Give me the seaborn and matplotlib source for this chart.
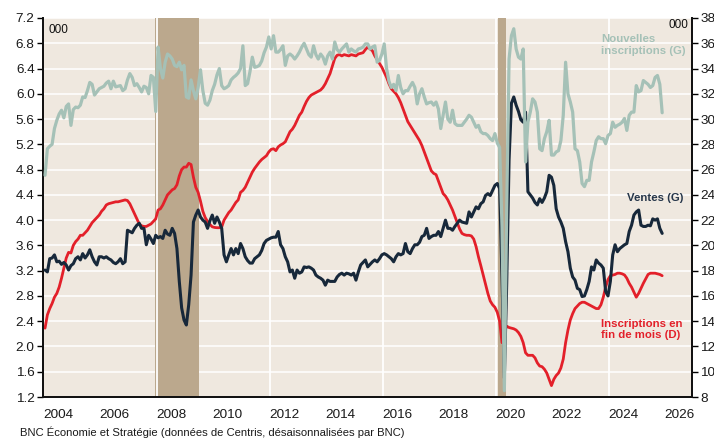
import pandas as pd
import matplotlib.pyplot as plt
import matplotlib.ticker as mticker
import seaborn as sns

# Monthly data, Jan 2004 -> Nov 2025 (thousands, seasonally adjusted)
# New listings (left axis)
nouvelles_inscriptions = [
    4.71, 5.13, 5.17, 5.20, 5.45, 5.58, 5.68, 5.74, 5.62, 5.80, 5.84, 5.50,  # 2004
    5.75, 5.79, 5.78, 5.82, 5.95, 5.94, 6.05, 6.18, 6.15, 5.98, 6.03, 6.08,  # 2005
    6.10, 6.12, 6.17, 6.20, 6.08, 6.20, 6.11, 6.12, 6.13, 6.05, 6.08, 6.22,  # 2006
    6.32, 6.26, 6.13, 6.16, 6.10, 6.03, 6.12, 6.10, 6.00, 6.29, 6.26, 5.72,  # 2007
    6.74, 6.40, 6.25, 6.50, 6.63, 6.60, 6.55, 6.45, 6.43, 6.50, 6.38, 6.45,  # 2008
    5.95, 5.93, 6.22, 6.05, 5.92, 6.10, 6.38, 6.05, 5.85, 5.82, 5.90, 6.05,  # 2009
    6.15, 6.30, 6.40, 6.13, 6.08, 6.10, 6.13, 6.22, 6.26, 6.29, 6.33, 6.40,  # 2010
    6.76, 6.13, 6.16, 6.35, 6.58, 6.42, 6.43, 6.45, 6.52, 6.65, 6.74, 6.90,  # 2011
    6.71, 6.92, 6.66, 6.66, 6.70, 6.76, 6.45, 6.60, 6.63, 6.60, 6.55, 6.60,  # 2012
    6.66, 6.74, 6.80, 6.71, 6.62, 6.58, 6.76, 6.62, 6.55, 6.63, 6.58, 6.47,  # 2013
    6.60, 6.66, 6.55, 6.82, 6.70, 6.66, 6.71, 6.75, 6.79, 6.66, 6.71, 6.68,  # 2014
    6.66, 6.71, 6.72, 6.74, 6.79, 6.79, 6.71, 6.74, 6.76, 6.50, 6.53, 6.63,  # 2015
    6.79, 6.40, 6.20, 6.10, 6.15, 6.05, 6.29, 6.10, 6.00, 6.05, 6.05, 6.12,  # 2016
    6.18, 6.10, 5.84, 6.00, 6.08, 5.95, 5.84, 5.86, 5.87, 5.82, 5.87, 5.76,  # 2017
    5.45, 5.66, 5.87, 5.60, 5.55, 5.74, 5.53, 5.50, 5.50, 5.50, 5.55, 5.60,  # 2018
    5.66, 5.63, 5.55, 5.47, 5.50, 5.40, 5.37, 5.37, 5.34, 5.29, 5.26, 5.37,  # 2019
    5.22, 5.15, 3.90, 1.30, 4.20, 6.55, 6.92, 7.03, 6.71, 6.58, 6.55, 6.71,  # 2020
    4.92, 5.55, 5.71, 5.92, 5.87, 5.71, 5.13, 5.10, 5.29, 5.40, 5.58, 5.03,  # 2021
    5.03, 5.08, 5.10, 5.26, 5.66, 6.50, 6.00, 5.87, 5.71, 5.13, 5.10, 4.92,  # 2022
    4.58, 4.53, 4.63, 4.63, 4.92, 5.08, 5.26, 5.32, 5.29, 5.29, 5.21, 5.34,  # 2023
    5.37, 5.55, 5.47, 5.50, 5.52, 5.55, 5.61, 5.42, 5.66, 5.71, 5.71, 6.13,  # 2024
    6.03, 6.05, 6.21, 6.18, 6.15, 6.10, 6.13, 6.26, 6.29, 6.15, 5.70,        # 2025
]

# Sales (left axis)
ventes = [
    3.21, 3.18, 3.39, 3.40, 3.45, 3.34, 3.35, 3.30, 3.33, 3.29, 3.21, 3.28,  # 2004
    3.31, 3.39, 3.42, 3.37, 3.47, 3.40, 3.45, 3.53, 3.42, 3.34, 3.29, 3.42,  # 2005
    3.42, 3.40, 3.42, 3.39, 3.37, 3.33, 3.31, 3.34, 3.39, 3.31, 3.34, 3.84,  # 2006
    3.82, 3.80, 3.87, 3.92, 3.95, 3.87, 3.87, 3.61, 3.76, 3.70, 3.63, 3.76,  # 2007
    3.72, 3.74, 3.71, 3.84, 3.78, 3.76, 3.87, 3.79, 3.55, 3.03, 2.61, 2.42,  # 2008
    2.34, 2.66, 3.13, 3.97, 4.08, 4.16, 4.05, 4.00, 3.97, 3.87, 3.99, 4.08,  # 2009
    3.95, 4.05, 3.97, 3.87, 3.45, 3.34, 3.45, 3.55, 3.45, 3.55, 3.47, 3.63,  # 2010
    3.55, 3.42, 3.36, 3.32, 3.32, 3.39, 3.42, 3.45, 3.52, 3.63, 3.68, 3.70,  # 2011
    3.72, 3.73, 3.73, 3.82, 3.61, 3.55, 3.42, 3.34, 3.18, 3.21, 3.08, 3.21,  # 2012
    3.16, 3.18, 3.26, 3.25, 3.26, 3.24, 3.21, 3.13, 3.10, 3.08, 3.05, 2.97,  # 2013
    3.05, 3.03, 3.03, 3.03, 3.10, 3.14, 3.16, 3.13, 3.16, 3.15, 3.13, 3.16,  # 2014
    3.05, 3.18, 3.29, 3.33, 3.37, 3.26, 3.30, 3.34, 3.37, 3.34, 3.39, 3.45,  # 2015
    3.47, 3.45, 3.42, 3.39, 3.34, 3.42, 3.47, 3.45, 3.47, 3.63, 3.50, 3.47,  # 2016
    3.55, 3.61, 3.61, 3.65, 3.74, 3.76, 3.87, 3.71, 3.74, 3.76, 3.76, 3.82,  # 2017
    3.74, 3.87, 4.00, 3.87, 3.87, 3.84, 3.90, 3.95, 4.00, 3.97, 3.96, 3.95,  # 2018
    4.13, 4.05, 4.13, 4.21, 4.18, 4.26, 4.29, 4.39, 4.42, 4.39, 4.47, 4.55,  # 2019
    4.58, 4.50, 3.10, 1.50, 3.00, 4.95, 5.85, 5.95, 5.82, 5.72, 5.59, 5.55,  # 2020
    5.71, 4.45, 4.40, 4.35, 4.28, 4.24, 4.34, 4.28, 4.35, 4.45, 4.71, 4.68,  # 2021
    4.55, 4.18, 4.05, 3.97, 3.87, 3.66, 3.50, 3.24, 3.10, 3.05, 2.92, 2.90,  # 2022
    2.79, 2.80, 2.90, 3.03, 3.26, 3.21, 3.37, 3.32, 3.29, 3.24, 2.87, 2.80,  # 2023
    3.03, 3.45, 3.61, 3.50, 3.55, 3.58, 3.61, 3.63, 3.82, 3.92, 4.08, 4.13,  # 2024
    4.16, 3.92, 3.90, 3.90, 3.92, 3.91, 4.02, 4.00, 4.02, 3.87, 3.79,        # 2025
]

# Active listings at month end (right axis)
inscriptions_fin_mois = [
    13.45, 14.5, 15.0, 15.4, 15.9, 16.2, 16.7, 17.4, 18.2, 19.0, 19.45, 19.4,   # 2004
    20.0, 20.3, 20.5, 20.8, 20.8, 21.0, 21.2, 21.5, 21.8, 22.0, 22.2, 22.4,     # 2005
    22.7, 22.9, 23.2, 23.3, 23.35, 23.4, 23.45, 23.45, 23.5, 23.55, 23.6, 23.55,  # 2006
    23.3, 22.9, 22.5, 22.1, 21.7, 21.55, 21.5, 21.5, 21.6, 21.7, 21.9, 22.1,    # 2007
    22.8, 22.9, 23.2, 23.6, 24.0, 24.2, 24.4, 24.5, 24.8, 25.5, 26.0, 26.2,     # 2008
    26.2, 26.5, 26.4, 25.4, 24.6, 24.2, 23.5, 22.7, 22.2, 21.9, 21.66, 21.47,   # 2009
    21.42, 21.4, 21.4, 21.45, 22.0, 22.3, 22.6, 22.8, 23.1, 23.4, 23.6, 24.2,   # 2010
    24.35, 24.6, 25.0, 25.4, 25.8, 26.1, 26.35, 26.6, 26.8, 26.95, 27.1, 27.4,  # 2011
    27.6, 27.65, 27.5, 27.8, 27.95, 28.05, 28.2, 28.6, 29.0, 29.2, 29.5, 29.9,  # 2012
    30.3, 30.55, 31.0, 31.4, 31.7, 31.9, 32.0, 32.1, 32.2, 32.3, 32.5, 32.8,    # 2013
    33.2, 33.6, 34.2, 34.8, 35.05, 35.1, 35.0, 35.1, 35.05, 35.0, 35.1, 35.05,  # 2014
    35.0, 35.15, 35.2, 35.25, 35.5, 35.7, 35.55, 35.4, 35.0, 34.7, 34.4, 34.1,  # 2015
    33.7, 33.3, 32.8, 32.4, 32.2, 32.0, 31.7, 31.3, 30.8, 30.3, 29.8, 29.5,     # 2016
    29.2, 28.9, 28.6, 28.3, 27.9, 27.4, 26.9, 26.4, 25.9, 25.7, 25.6, 25.1,     # 2017
    24.6, 24.1, 23.9, 23.6, 23.2, 22.8, 22.3, 21.8, 21.3, 20.95, 20.85, 20.8,   # 2018
    20.8, 20.75, 20.5, 19.9, 19.1, 18.4, 17.66, 16.9, 16.2, 15.6, 15.3, 15.1,   # 2019
    14.7, 14.0, 12.3, 13.2, 13.6, 13.5, 13.45, 13.4, 13.3, 13.1, 12.8, 12.3,    # 2020
    11.5, 11.3, 11.3, 11.3, 11.1, 10.7, 10.45, 10.4, 10.2, 9.9, 9.4, 8.9,       # 2021
    9.4, 9.7, 9.9, 10.3, 11.0, 12.3, 13.3, 14.1, 14.6, 15.0, 15.2, 15.4,        # 2022
    15.5, 15.5, 15.4, 15.3, 15.2, 15.1, 15.0, 15.0, 15.3, 15.9, 16.7, 17.3,     # 2023
    17.6, 17.65, 17.7, 17.8, 17.8, 17.75, 17.66, 17.4, 17.0, 16.7, 16.3, 15.9,  # 2024
    16.2, 16.6, 17.0, 17.35, 17.7, 17.8, 17.8, 17.8, 17.75, 17.7, 17.6,         # 2025
]

# US recessions (shaded)
recessions = [("2007-12", "2009-06"), ("2020-02", "2020-04")]
year_labels = list(range(2004, 2027, 2))

months = pd.date_range("2004-01-01", periods=len(ventes), freq="MS")
df = pd.DataFrame({
    "t": months.year + (months.month - 0.5) / 12,
    "nouv": nouvelles_inscriptions,
    "ventes": ventes,
    "fin": inscriptions_fin_mois,
})

def dec_year(s, end=False):
    p = pd.Period(s, freq="M")
    return p.year + (p.month - (0 if end else 1)) / 12

BG = "#efe8df"
BAND = "#bba88d"
GREEN = "#a5c1b7"
NAVY = "#17283a"
RED = "#e3202a"

sns.set_style("white")
plt.rcParams["font.family"] = ["Liberation Sans", "DejaVu Sans"]

fig = plt.figure(figsize=(7.14, 4.41), dpi=100)
ax = fig.add_axes([43 / 714, 1 - 397 / 441, 649 / 714, 379 / 441])
ax.set_facecolor(BG)
ax2 = ax.twinx()

# background: horizontal grid, recession bands, vertical grid
ax.set_axisbelow(True)
ax.grid(axis="y", color="white", lw=1.1)
for a, b in recessions:
    ax.axvspan(dec_year(a), dec_year(b, end=True), color=BAND, lw=0, zorder=1)
for yr in range(2008, 2025, 4):
    ax.axvline(yr, color="white", lw=1.3, zorder=1.5)

# right-axis series (bottom layer)
sns.lineplot(data=df, x="t", y="fin", ax=ax, color=RED, lw=2.0, zorder=3)
# left-axis series (top layer)
sns.lineplot(data=df, x="t", y="ventes", ax=ax2, color=NAVY, lw=2.2, zorder=3)
sns.lineplot(data=df, x="t", y="nouv", ax=ax2, color=GREEN, lw=2.3, zorder=4)

for a in (ax, ax2):
    a.set_xlabel("")
    a.set_ylabel("")

ax.set_xlim(2003.97, 2026.93)
ax.set_xticks([y + 0.5 for y in year_labels])
ax.set_xticklabels([str(y) for y in year_labels])
ax.xaxis.set_minor_locator(mticker.MultipleLocator(0.25))
ax.tick_params(axis="x", which="both", direction="out", length=3, width=1,
               color="black", labelsize=9.7, pad=6, labelcolor="#1a1a1a")

# red on right scale, sales/new listings on left scale
ax.yaxis.tick_right()
ax2.yaxis.tick_left()
ax.set_ylim(8, 38)
ax.set_yticks(range(8, 39, 2))
ax2.set_ylim(1.2, 7.2)
ax2.set_yticks([1.2 + 0.4 * k for k in range(16)])
ax2.yaxis.set_major_formatter(mticker.FormatStrFormatter("%.1f"))
ax.tick_params(axis="y", direction="out", length=4, width=1, color="black",
               labelsize=9.7, pad=2, labelcolor="#1a1a1a")
ax2.tick_params(axis="y", direction="out", length=4, width=1, color="black",
                labelsize=9.7, pad=2, labelcolor="#1a1a1a")

for a in (ax, ax2):
    a.spines["top"].set_visible(False)
    for s in ("left", "right", "bottom"):
        a.spines[s].set_color("#111111")
        a.spines[s].set_linewidth(1.3)

ax.text(0.008, 0.968, "000", transform=ax.transAxes, fontsize=8.5,
        ha="left", va="center", color="#111111")
ax.text(0.994, 0.982, "000", transform=ax.transAxes, fontsize=8.5,
        ha="right", va="center", color="#111111")

ax2.text(0.86, 0.958, "Nouvelles\ninscriptions (G)", transform=ax.transAxes,
         fontsize=8.2, fontweight="bold", color=GREEN, ha="left", va="top",
         linespacing=1.2, zorder=6)
ax2.text(0.90, 0.526, "Ventes (G)", transform=ax.transAxes, fontsize=8.2,
         fontweight="bold", color="#26364a", ha="left", va="center", zorder=6)
ax2.text(0.86, 0.207, "Inscriptions en\nfin de mois (D)", transform=ax.transAxes,
         fontsize=8.2, fontweight="bold", color=RED, ha="left", va="top",
         linespacing=1.2, zorder=6)

fig.text(20 / 714, 1 - 432 / 441,
         "BNC Économie et Stratégie (données de Centris, désaisonnalisées par BNC)",
         fontsize=8.1, ha="left", va="center", color="#1a1a1a")

fig.savefig("out.png", dpi=100)
